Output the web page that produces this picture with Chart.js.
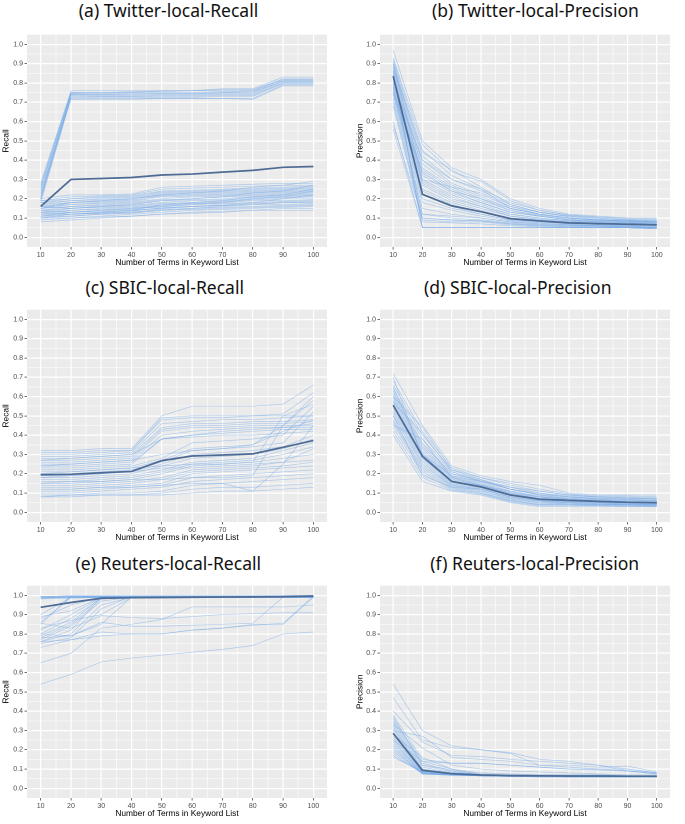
<!DOCTYPE html>
<html lang="en">
<head>
  <meta charset="UTF-8">
  <script src="https://cdn.jsdelivr.net/npm/chart.js@4.4.0/dist/chart.umd.min.js"></script>
  <style>
    body { margin: 0; background: #fff; }
    #page { position: relative; width: 685px; height: 824px; overflow: hidden; }
    .panel-title { position: absolute; font-family: 'Noto Sans', sans-serif; font-size: 17.5px; line-height: 20px; white-space: nowrap; transform: translateX(-50%); color: #111; }
    canvas { position: absolute; }
  </style>
</head>
<body>
<div id="page">
  <div class="panel-title" style="left:168.5px; top:0px">(a) Twitter-local-Recall</div>
  <div class="panel-title" style="left:535.5px; top:0px">(b) Twitter-local-Precision</div>
  <div class="panel-title" style="left:164.7px; top:277px">(c) SBIC-local-Recall</div>
  <div class="panel-title" style="left:517.8px; top:277px">(d) SBIC-local-Precision</div>
  <div class="panel-title" style="left:168.3px; top:552.5px">(e) Reuters-local-Recall</div>
  <div class="panel-title" style="left:534.7px; top:552.5px">(f) Reuters-local-Precision</div>

  <canvas id="twRecall" width="335" height="246" style="left:0px; top:29px"></canvas>
  <canvas id="twPrecision" width="345" height="246" style="left:340px; top:29px"></canvas>
  <canvas id="sbRecall" width="335" height="246" style="left:0px; top:303.5px"></canvas>
  <canvas id="sbPrecision" width="345" height="246" style="left:340px; top:303.5px"></canvas>
  <canvas id="rtRecall" width="335" height="246" style="left:0px; top:580px"></canvas>
  <canvas id="rtPrecision" width="345" height="246" style="left:340px; top:580px"></canvas>
</div>
<script>
  // x values and axis breaks
  const termCounts = [10, 20, 30, 40, 50, 60, 70, 80, 90, 100];
  const xTickLabels = [10, 20, 30, 40, 50, 60, 70, 80, 90, 100];
  const xGridValues = [10, 15, 20, 25, 30, 35, 40, 45, 50, 55, 60, 65, 70, 75, 80, 85, 90, 95, 100];
  const yGridValues = [0, 0.05, 0.1, 0.15, 0.2, 0.25, 0.3, 0.35, 0.4, 0.45, 0.5, 0.55, 0.6, 0.65, 0.7, 0.75, 0.8, 0.85, 0.9, 0.95, 1.0];

  // (a) Twitter-local-Recall
  const twitterRecallMean = [.16, .30, .305, .31, .323, .328, .338, .347, .363, .367];
  const twitterRecallRuns = [
    [.28, .76, .76, .76, .76, .76, .77, .77, .83, .83],
    [.26, .75, .75, .75, .76, .76, .76, .76, .82, .82],
    [.25, .745, .745, .75, .75, .75, .755, .76, .815, .815],
    [.24, .74, .74, .745, .745, .745, .75, .75, .81, .81],
    [.22, .74, .735, .735, .74, .74, .745, .745, .805, .805],
    [.21, .735, .73, .73, .735, .735, .74, .74, .80, .80],
    [.20, .73, .73, .73, .73, .73, .735, .735, .80, .80],
    [.19, .725, .725, .725, .725, .725, .73, .73, .795, .795],
    [.18, .72, .72, .72, .72, .72, .72, .72, .79, .79],
    [.23, .715, .715, .715, .72, .72, .72, .715, .785, .785],
    [.27, .75, .75, .755, .755, .76, .765, .765, .82, .82],
    [.20, .745, .74, .74, .745, .745, .75, .755, .81, .81],
    [.08, .09, .10, .11, .12, .125, .13, .14, .14, .14],
    [.09, .10, .105, .11, .12, .13, .135, .14, .15, .15],
    [.10, .10, .11, .12, .13, .14, .145, .15, .155, .16],
    [.10, .11, .12, .13, .14, .15, .155, .16, .165, .17],
    [.11, .12, .125, .13, .145, .15, .16, .17, .17, .175],
    [.11, .13, .135, .14, .15, .16, .165, .175, .18, .18],
    [.12, .13, .14, .145, .16, .17, .175, .18, .185, .19],
    [.12, .14, .145, .15, .165, .175, .18, .19, .19, .195],
    [.13, .14, .15, .155, .17, .175, .185, .195, .20, .20],
    [.13, .15, .155, .16, .175, .18, .19, .20, .205, .21],
    [.14, .15, .16, .165, .18, .19, .195, .205, .21, .215],
    [.14, .16, .165, .17, .19, .195, .20, .21, .215, .22],
    [.15, .16, .17, .175, .195, .20, .21, .215, .22, .225],
    [.15, .17, .175, .18, .20, .21, .215, .22, .225, .23],
    [.16, .17, .18, .185, .21, .215, .22, .225, .23, .235],
    [.16, .18, .185, .19, .215, .22, .225, .23, .235, .24],
    [.17, .18, .19, .195, .22, .225, .23, .235, .24, .245],
    [.17, .19, .195, .20, .225, .23, .235, .24, .245, .25],
    [.18, .19, .20, .205, .23, .235, .24, .245, .25, .255],
    [.18, .20, .205, .21, .235, .24, .245, .25, .255, .26],
    [.19, .20, .21, .215, .24, .245, .25, .255, .26, .265],
    [.19, .21, .215, .22, .25, .255, .26, .265, .27, .27],
    [.20, .22, .22, .225, .26, .265, .27, .275, .28, .28],
    [.12, .12, .13, .14, .15, .16, .17, .18, .20, .22],
    [.14, .13, .14, .15, .16, .17, .18, .20, .21, .24],
    [.10, .12, .13, .14, .17, .18, .19, .21, .22, .25],
    [.16, .15, .16, .17, .19, .20, .21, .23, .24, .27],
    [.15, .18, .19, .20, .22, .23, .24, .26, .27, .29],
    [.11, .11, .12, .125, .14, .145, .15, .155, .16, .165],
    [.13, .12, .125, .135, .155, .16, .165, .17, .18, .185]
  ];

  // (b) Twitter-local-Precision
  const twitterPrecisionMean = [.835, .223, .163, .133, .097, .085, .075, .071, .068, .065];
  const twitterPrecisionRuns = [
    [.97, .50, .36, .30, .20, .15, .12, .11, .10, .10],
    [.92, .45, .32, .25, .18, .14, .115, .105, .095, .09],
    [.91, .42, .30, .24, .17, .13, .11, .10, .09, .085],
    [.90, .40, .28, .22, .16, .13, .105, .095, .09, .085],
    [.89, .38, .27, .21, .15, .12, .10, .09, .085, .08],
    [.88, .36, .26, .20, .15, .12, .10, .09, .085, .08],
    [.87, .35, .25, .19, .14, .115, .095, .09, .08, .075],
    [.86, .33, .24, .18, .13, .11, .09, .085, .08, .075],
    [.85, .32, .23, .18, .13, .11, .09, .085, .08, .075],
    [.84, .30, .22, .17, .12, .10, .085, .08, .075, .07],
    [.83, .29, .21, .16, .12, .10, .085, .08, .075, .07],
    [.82, .28, .20, .16, .11, .095, .08, .075, .07, .065],
    [.81, .27, .19, .15, .11, .09, .08, .075, .07, .065],
    [.80, .25, .18, .14, .10, .09, .075, .07, .065, .06],
    [.79, .24, .17, .13, .10, .085, .075, .07, .065, .06],
    [.78, .22, .16, .12, .09, .08, .07, .065, .06, .06],
    [.77, .20, .15, .12, .09, .08, .07, .065, .06, .055],
    [.76, .18, .14, .11, .085, .075, .065, .06, .06, .055],
    [.75, .15, .12, .10, .08, .07, .065, .06, .055, .05],
    [.74, .12, .10, .09, .075, .065, .06, .055, .055, .05],
    [.72, .10, .09, .085, .07, .06, .055, .055, .05, .05],
    [.70, .09, .08, .08, .065, .06, .055, .05, .05, .045],
    [.68, .08, .075, .07, .06, .055, .05, .05, .05, .045],
    [.60, .05, .05, .05, .05, .05, .05, .05, .05, .05],
    [.56, .05, .05, .05, .05, .05, .05, .05, .05, .05],
    [.58, .10, .09, .085, .07, .065, .06, .06, .055, .05],
    [.86, .05, .05, .05, .05, .05, .05, .05, .05, .045],
    [.93, .48, .34, .29, .19, .14, .115, .105, .10, .095],
    [.88, .44, .35, .26, .17, .13, .11, .10, .09, .085],
    [.84, .05, .05, .05, .05, .05, .05, .05, .05, .045],
    [.80, .40, .30, .25, .15, .12, .10, .09, .085, .08],
    [.78, .12, .11, .10, .08, .07, .065, .06, .055, .05],
    [.90, .30, .26, .23, .16, .12, .10, .09, .085, .08],
    [.75, .34, .24, .20, .14, .11, .09, .08, .075, .07]
  ];

  // (c) SBIC-local-Recall
  const sbicRecallMean = [.195, .197, .205, .212, .268, .292, .297, .303, .337, .372];
  const sbicRecallRuns = [
    [.32, .32, .33, .33, .50, .55, .55, .55, .56, .66],
    [.31, .31, .32, .32, .49, .50, .50, .50, .51, .62],
    [.30, .30, .31, .32, .48, .49, .49, .50, .50, .50],
    [.29, .29, .30, .31, .46, .47, .48, .48, .49, .50],
    [.28, .28, .29, .30, .44, .46, .46, .47, .47, .48],
    [.27, .27, .28, .29, .43, .45, .45, .46, .46, .47],
    [.26, .26, .27, .28, .42, .44, .44, .45, .45, .45],
    [.25, .25, .26, .27, .40, .42, .43, .44, .44, .44],
    [.24, .24, .25, .26, .38, .40, .41, .42, .43, .43],
    [.23, .23, .24, .25, .38, .39, .40, .40, .41, .42],
    [.22, .22, .23, .24, .28, .36, .37, .38, .40, .55],
    [.21, .21, .22, .23, .27, .33, .34, .35, .45, .58],
    [.20, .20, .21, .22, .26, .32, .33, .34, .36, .52],
    [.19, .19, .20, .21, .25, .30, .31, .32, .34, .40],
    [.18, .18, .19, .20, .24, .28, .29, .30, .33, .38],
    [.17, .17, .18, .19, .22, .26, .27, .28, .32, .36],
    [.16, .16, .17, .18, .21, .25, .26, .27, .30, .34],
    [.15, .15, .16, .17, .20, .24, .25, .26, .28, .30],
    [.14, .14, .15, .16, .18, .22, .23, .24, .26, .27],
    [.13, .13, .14, .15, .17, .21, .22, .23, .24, .26],
    [.12, .12, .13, .14, .15, .20, .21, .22, .23, .24],
    [.11, .11, .12, .13, .14, .18, .19, .20, .21, .22],
    [.10, .10, .11, .12, .13, .16, .17, .18, .19, .20],
    [.09, .09, .10, .10, .11, .14, .15, .16, .17, .18],
    [.08, .09, .09, .09, .10, .12, .13, .13, .14, .15],
    [.08, .08, .09, .09, .09, .10, .11, .11, .12, .13],
    [.15, .16, .16, .17, .17, .18, .18, .19, .45, .60],
    [.20, .21, .22, .23, .24, .25, .25, .26, .50, .56],
    [.12, .12, .13, .13, .14, .15, .15, .11, .25, .45],
    [.24, .25, .26, .27, .30, .32, .33, .35, .42, .48],
    [.18, .19, .20, .21, .23, .23, .24, .25, .26, .33],
    [.27, .28, .29, .30, .38, .40, .42, .43, .44, .46]
  ];

  // (d) SBIC-local-Precision
  const sbicPrecisionMean = [.555, .29, .16, .132, .09, .068, .062, .057, .052, .05];
  const sbicPrecisionRuns = [
    [.72, .45, .24, .19, .16, .14, .10, .09, .09, .09],
    [.68, .42, .23, .18, .15, .12, .095, .085, .085, .08],
    [.66, .40, .22, .18, .14, .11, .09, .08, .08, .075],
    [.64, .38, .21, .17, .13, .10, .085, .08, .075, .07],
    [.63, .36, .20, .165, .12, .095, .08, .075, .07, .07],
    [.62, .35, .20, .16, .12, .09, .08, .07, .07, .065],
    [.61, .34, .19, .155, .11, .085, .075, .07, .065, .06],
    [.60, .33, .185, .15, .105, .08, .07, .065, .06, .06],
    [.59, .32, .18, .145, .10, .08, .07, .065, .06, .055],
    [.58, .31, .175, .14, .10, .075, .065, .06, .055, .055],
    [.57, .30, .17, .14, .095, .07, .065, .06, .055, .05],
    [.56, .30, .165, .135, .09, .07, .06, .055, .05, .05],
    [.55, .29, .16, .13, .09, .065, .06, .055, .05, .05],
    [.54, .28, .155, .13, .085, .065, .055, .05, .05, .045],
    [.53, .27, .15, .125, .08, .06, .055, .05, .045, .045],
    [.52, .26, .145, .12, .08, .06, .05, .05, .045, .04],
    [.51, .25, .14, .12, .075, .055, .05, .045, .045, .04],
    [.50, .24, .14, .115, .07, .05, .05, .045, .04, .04],
    [.48, .23, .135, .11, .07, .05, .045, .04, .04, .035],
    [.47, .22, .13, .105, .065, .045, .045, .04, .04, .035],
    [.46, .21, .125, .10, .06, .04, .04, .04, .035, .035],
    [.44, .20, .12, .10, .06, .04, .04, .035, .035, .03],
    [.42, .18, .115, .095, .055, .035, .035, .035, .03, .03],
    [.40, .16, .11, .09, .05, .03, .03, .03, .03, .03],
    [.65, .30, .19, .16, .13, .11, .09, .08, .075, .07],
    [.60, .44, .22, .17, .12, .09, .07, .06, .055, .05],
    [.45, .38, .18, .14, .10, .07, .06, .055, .05, .045],
    [.70, .28, .16, .14, .11, .08, .065, .06, .055, .05],
    [.50, .19, .13, .12, .08, .06, .05, .045, .04, .04],
    [.57, .41, .21, .16, .12, .10, .08, .07, .065, .06]
  ];

  // (e) Reuters-local-Recall
  const reutersRecallMean = [.938, .963, .985, .988, .989, .99, .991, .992, .993, .996];
  const reutersRecallRuns = [
    [.99, .99, .99, .99, .99, .99, .99, .99, .99, .995],
    [.985, .99, .99, .99, .99, .99, .99, .99, .99, .99],
    [.995, .995, .995, .995, .995, .995, .995, .995, .995, .995],
    [.98, .995, .995, .995, .995, .995, .995, .995, .995, 1.0],
    [.99, 1.0, 1.0, 1.0, 1.0, 1.0, 1.0, 1.0, 1.0, 1.0],
    [.985, .985, .99, .99, .99, .99, .99, .99, .99, .995],
    [.99, .99, .995, .995, .995, .995, .995, .995, .995, .995],
    [.86, .99, .99, .99, .99, .99, .99, .99, .99, .99],
    [.85, .995, .995, .995, .995, .995, .995, .995, .995, .995],
    [.82, .90, .99, .99, .99, .99, .99, .99, .99, .99],
    [.80, .88, .985, .99, .99, .99, .99, .99, .99, .99],
    [.79, .86, .99, .99, .99, .99, .99, .99, .99, .99],
    [.78, .85, .98, .99, .99, .99, .99, .99, .99, .99],
    [.77, .84, .97, .99, .99, .99, .99, .99, .99, .99],
    [.76, .80, .95, .99, .99, .99, .99, .99, .99, .995],
    [.75, .78, .93, .995, .995, .995, .995, .995, .995, .995],
    [.89, .92, .99, .99, .99, .99, .99, .99, .99, .99],
    [.855, .83, .895, .885, .88, .89, .90, .905, .91, .91],
    [.80, .79, .86, .84, .84, .845, .85, .855, .99, .99],
    [.76, .77, .81, .80, .80, .82, .83, .845, .855, .995],
    [.73, .77, .79, .80, .80, .82, .83, .85, .85, .99],
    [.65, .70, .83, .85, .875, .94, .94, .94, .94, .95],
    [.54, .59, .655, .675, .69, .705, .72, .74, .80, .81],
    [.88, .95, .99, .99, .99, .99, .99, .99, .99, .99],
    [.90, .99, .99, .99, .99, .99, .99, .99, .99, .99],
    [.78, .79, .85, .99, .99, .99, .99, .99, .99, .99],
    [.99, .99, .99, .99, .99, .99, .99, .99, .99, .99],
    [.995, .995, .995, .995, .995, .995, .995, .995, .995, 1.0],
    [.83, .87, .90, .99, .99, .99, .99, .99, .99, .99],
    [.76, .82, .99, .99, .99, .99, .99, .99, .99, .99]
  ];

  // (f) Reuters-local-Precision
  const reutersPrecisionMean = [.285, .093, .076, .069, .066, .065, .064, .064, .063, .063];
  const reutersPrecisionRuns = [
    [.54, .30, .22, .20, .185, .15, .14, .12, .09, .08],
    [.47, .25, .21, .20, .18, .12, .12, .11, .115, .085],
    [.40, .24, .17, .165, .15, .14, .13, .12, .10, .08],
    [.38, .15, .13, .13, .12, .11, .10, .10, .09, .075],
    [.36, .14, .10, .07, .065, .065, .065, .065, .065, .065],
    [.35, .13, .09, .07, .065, .065, .065, .065, .065, .065],
    [.34, .12, .085, .07, .065, .065, .065, .065, .065, .065],
    [.33, .11, .08, .07, .065, .065, .065, .065, .065, .06],
    [.32, .10, .08, .07, .065, .065, .065, .065, .065, .06],
    [.31, .10, .08, .07, .065, .065, .065, .065, .06, .06],
    [.30, .095, .075, .068, .065, .065, .065, .065, .06, .06],
    [.29, .09, .075, .068, .065, .065, .065, .065, .06, .06],
    [.28, .09, .075, .068, .065, .065, .065, .06, .06, .06],
    [.27, .085, .072, .066, .065, .065, .065, .06, .06, .06],
    [.26, .085, .072, .066, .065, .065, .06, .06, .06, .06],
    [.25, .08, .07, .066, .065, .063, .06, .06, .06, .06],
    [.24, .08, .07, .065, .065, .063, .06, .06, .06, .06],
    [.23, .08, .07, .065, .063, .063, .06, .06, .06, .06],
    [.22, .075, .07, .065, .063, .062, .06, .06, .06, .06],
    [.21, .075, .07, .065, .063, .062, .06, .06, .06, .06],
    [.20, .075, .068, .065, .062, .062, .06, .06, .06, .06],
    [.19, .08, .07, .065, .062, .06, .06, .06, .06, .06],
    [.18, .075, .068, .065, .062, .06, .06, .06, .06, .06],
    [.17, .08, .07, .065, .062, .06, .06, .06, .06, .06],
    [.16, .09, .075, .065, .062, .06, .06, .06, .06, .06],
    [.30, .27, .16, .15, .14, .12, .11, .10, .10, .08],
    [.25, .14, .13, .13, .12, .11, .10, .095, .09, .075],
    [.33, .21, .12, .10, .09, .085, .08, .075, .07, .07],
    [.37, .12, .095, .075, .07, .07, .07, .07, .065, .065],
    [.28, .16, .10, .08, .075, .07, .07, .07, .065, .065]
  ];

  const runColor = 'rgba(118, 170, 232, 0.52)';
  const meanColor = '#4d6b94';
  const tickFont = { family: "'Liberation Sans', Arial, sans-serif", size: 7 };
  const titleFont = { family: "'Liberation Sans', Arial, sans-serif", size: 8.4 };

  // grey panel like ggplot theme_gray
  const panelBg = {
    id: 'panelBg',
    beforeDraw(chart) {
      const { ctx, chartArea: a } = chart;
      ctx.save();
      ctx.fillStyle = '#EBEBEB';
      ctx.fillRect(a.left, a.top, a.right - a.left, a.bottom - a.top);
      ctx.restore();
    }
  };

  function isMajorY(v) { return Math.round(v * 100) % 10 === 0; }
  function isMajorX(v) { return xTickLabels.includes(v); }

  function toPoints(vals) {
    return vals.map((v, i) => ({ x: termCounts[i], y: v }));
  }

  function makePanel(id, runs, mean, yTitle, axisWidth, padRight, yTitlePad) {
    const datasets = [{ data: toPoints(mean), borderColor: meanColor, borderWidth: 1.7 }];
    runs.forEach(r => datasets.push({ data: toPoints(r), borderColor: runColor, borderWidth: 0.7 }));

    new Chart(document.getElementById(id), {
      type: 'line',
      data: { datasets },
      plugins: [panelBg],
      options: {
        responsive: false,
        animation: false,
        devicePixelRatio: 2,
        layout: { padding: { left: 0, right: padRight, top: 0, bottom: 0 } },
        elements: { point: { radius: 0 }, line: { tension: 0 } },
        plugins: { legend: { display: false }, tooltip: { enabled: false } },
        scales: {
          x: {
            type: 'linear', min: 5.5, max: 104.5,
            afterBuildTicks: s => { s.ticks = xGridValues.map(v => ({ value: v })); },
            afterFit: s => { s.height = 28; },
            ticks: {
              autoSkip: false, maxRotation: 0, padding: 1.5,
              color: '#4D4D4D', font: tickFont,
              callback: v => isMajorX(v) ? String(v) : ''
            },
            grid: {
              color: '#FFFFFF',
              lineWidth: c => isMajorX(c.tick.value) ? 1.2 : 0.6,
              tickLength: 2.5,
              tickColor: c => isMajorX(c.tick.value) ? '#333333' : 'rgba(0,0,0,0)',
              tickWidth: 0.7
            },
            border: { display: false },
            title: { display: true, text: 'Number of Terms in Keyword List', color: '#000', font: titleFont, padding: { top: 0, bottom: 7.4 } }
          },
          y: {
            type: 'linear', min: -0.05, max: 1.05,
            afterBuildTicks: s => { s.ticks = yGridValues.map(v => ({ value: v })); },
            afterFit: s => { s.width = axisWidth; },
            ticks: {
              autoSkip: false, padding: 1.5,
              color: '#4D4D4D', font: tickFont,
              callback: v => isMajorY(v) ? v.toFixed(1) : ''
            },
            grid: {
              color: '#FFFFFF',
              lineWidth: c => isMajorY(c.tick.value) ? 1.2 : 0.6,
              tickLength: 2.5,
              tickColor: c => isMajorY(c.tick.value) ? '#333333' : 'rgba(0,0,0,0)',
              tickWidth: 0.7
            },
            border: { display: false },
            title: { display: true, text: yTitle, color: '#000', font: titleFont, padding: { top: yTitlePad, bottom: 0 } }
          }
        }
      }
    });
  }

  makePanel('twRecall', twitterRecallRuns, twitterRecallMean, 'Recall', 27, 8, 1);
  makePanel('twPrecision', twitterPrecisionRuns, twitterPrecisionMean, 'Precision', 40, 15, 15);
  makePanel('sbRecall', sbicRecallRuns, sbicRecallMean, 'Recall', 27, 8, 1);
  makePanel('sbPrecision', sbicPrecisionRuns, sbicPrecisionMean, 'Precision', 40, 15, 15);
  makePanel('rtRecall', reutersRecallRuns, reutersRecallMean, 'Recall', 27, 8, 1);
  makePanel('rtPrecision', reutersPrecisionRuns, reutersPrecisionMean, 'Precision', 40, 15, 15);
</script>
</body>
</html>
